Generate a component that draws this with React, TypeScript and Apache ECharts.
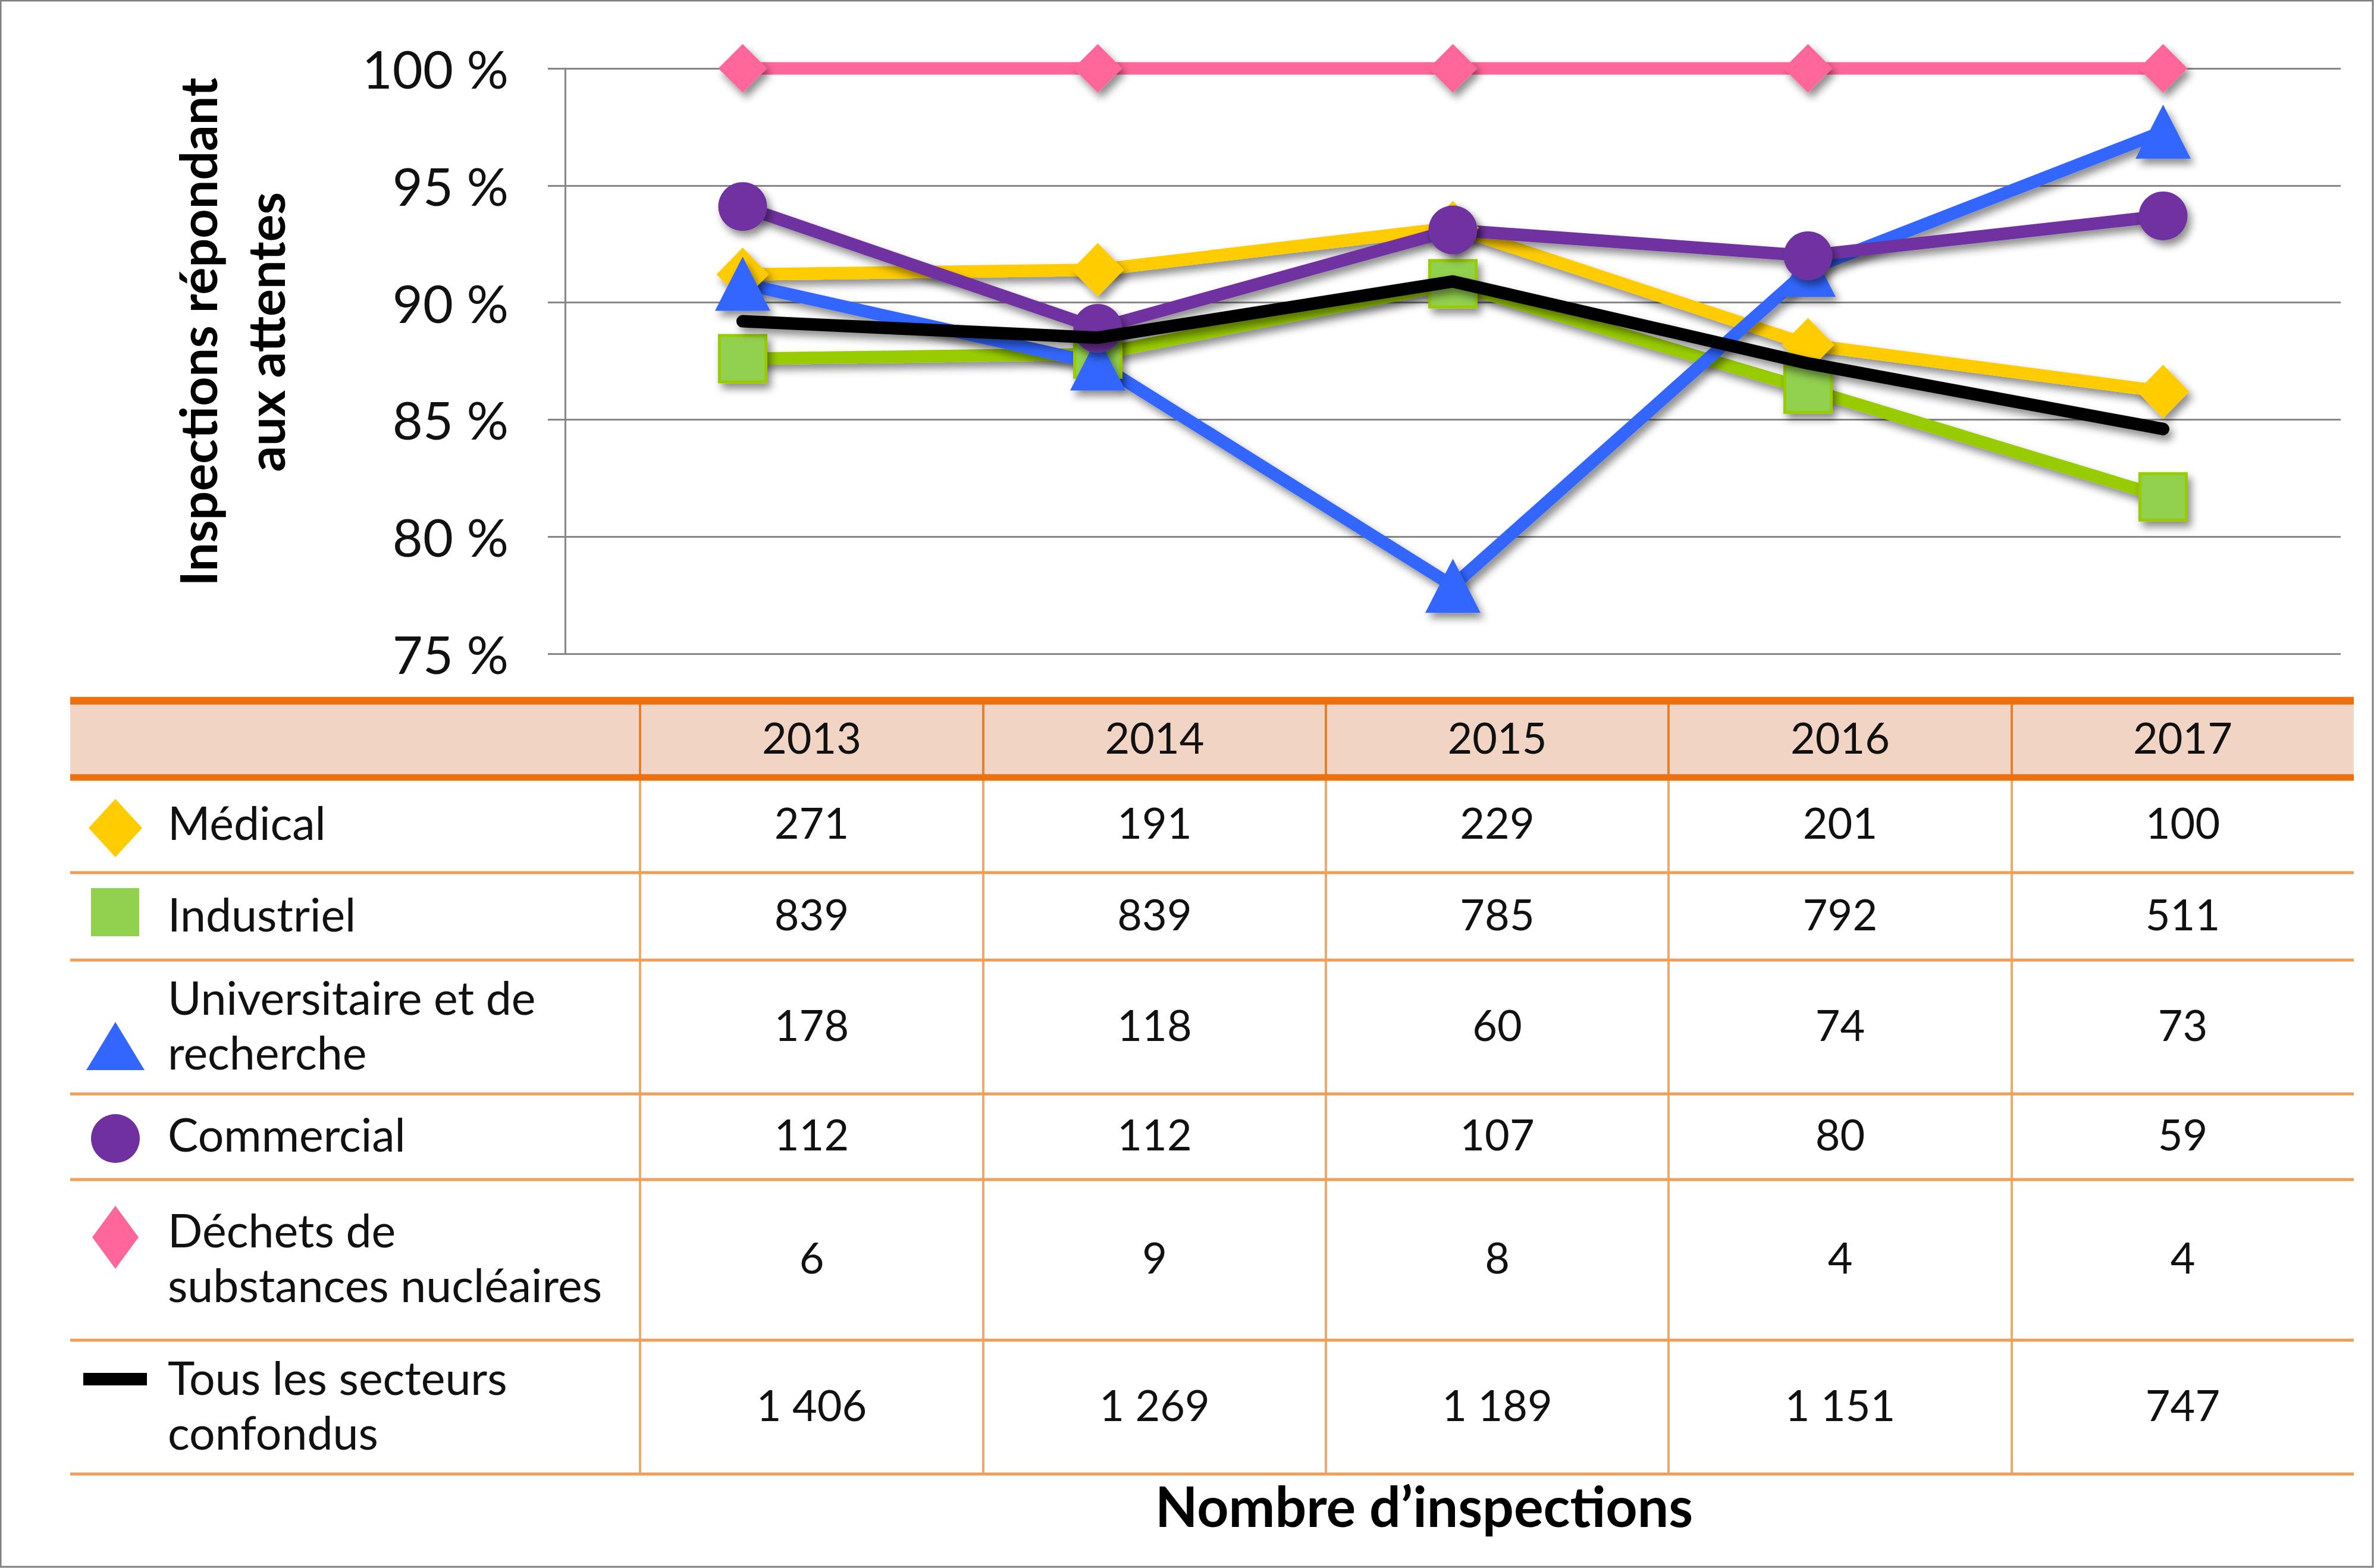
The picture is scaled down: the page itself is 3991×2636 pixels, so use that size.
import React, { useEffect, useRef } from "react";
import * as echarts from "echarts";

// ---------- data ----------
const years = ["2013", "2014", "2015", "2016", "2017"];
const yTicks = [75, 80, 85, 90, 95, 100];

const seriesNames = [
  "Déchets de substances nucléaires",
  "Médical",
  "Industriel",
  "Universitaire et de recherche",
  "Commercial",
  "Tous les secteurs confondus",
];
const dechetsPct = [100, 100, 100, 100, 100];
const medicalPct = [91.2, 91.4, 93.2, 88.2, 86.2];
const industrielPct = [87.6, 87.8, 90.8, 86.3, 81.7];
const universitairePct = [90.8, 87.4, 77.9, 91.4, 97.3];
const commercialPct = [94.1, 88.9, 93.1, 92.0, 93.7];
const tousPct = [89.2, 88.5, 90.9, 87.4, 84.6];

const rowLabels = [
  "Médical",
  "Industriel",
  "Universitaire et de\nrecherche",
  "Commercial",
  "Déchets de\nsubstances nucléaires",
  "Tous les secteurs\nconfondus",
];
const medicalCounts = [271, 191, 229, 201, 100];
const industrielCounts = [839, 839, 785, 792, 511];
const universitaireCounts = [178, 118, 60, 74, 73];
const commercialCounts = [112, 112, 107, 80, 59];
const dechetsCounts = [6, 9, 8, 4, 4];
const tousCounts = [1406, 1269, 1189, 1151, 747];

// ---------- styles ----------
const FONT = "Lato, 'Open Sans', sans-serif";
const C_PINK = "#FF6699";
const C_YELLOW = "#FFCC00";
const C_GREEN_LINE = "#99CC00";
const C_GREEN_FILL = "#92D050";
const C_BLUE = "#3366FF";
const C_PURPLE = "#7030A0";
const C_BLACK = "#000000";

const fmt = (n: number) =>
  n >= 1000 ? `${Math.floor(n / 1000)} ${String(n % 1000).padStart(3, "0")}` : String(n);

const shadow = {
  shadowBlur: 14,
  shadowColor: "rgba(0,0,0,0.45)",
  shadowOffsetX: 6,
  shadowOffsetY: 9,
};

function textEl(text: string, x: number, y: number, opts: any = {}) {
  const align = opts.align || "center";
  return {
    type: "text",
    x,
    y,
    rotation: opts.rotation || 0,
    silent: true,
    style: {
      text,
      fill: opts.fill || "#111111",
      fontSize: opts.fontSize || 72,
      fontFamily: FONT,
      fontWeight: opts.fontWeight || "normal",
      lineHeight: opts.lineHeight || 92,
      align,
      verticalAlign: "middle",
      textAlign: align,
      textVerticalAlign: "middle",
    },
  };
}

function buildTable() {
  const colB = [118, 1076, 1653, 2229, 2805, 3382, 3957];
  const rowB = [1178, 1307, 1467, 1614, 1839, 1983, 2253, 2478];
  const counts = [
    medicalCounts,
    industrielCounts,
    universitaireCounts,
    commercialCounts,
    dechetsCounts,
    tousCounts,
  ];
  const els: any[] = [];
  els.push({
    type: "rect",
    shape: { x: colB[0], y: rowB[0], width: colB[6] - colB[0], height: rowB[1] - rowB[0] },
    style: { fill: "#F1D4C4" },
    silent: true,
  });
  for (let i = 1; i < 6; i++) {
    els.push({
      type: "line",
      shape: { x1: colB[i], y1: rowB[0] - 6, x2: colB[i], y2: rowB[7] },
      style: { stroke: "#F2A86A", lineWidth: 4 },
      silent: true,
    });
    els.push({
      type: "line",
      shape: { x1: colB[i], y1: rowB[0] - 6, x2: colB[i], y2: rowB[1] },
      style: { stroke: "#E8802A", lineWidth: 4 },
      silent: true,
    });
  }
  for (let r = 2; r < rowB.length; r++) {
    els.push({
      type: "line",
      shape: { x1: colB[0], y1: rowB[r], x2: colB[6], y2: rowB[r] },
      style: { stroke: "#F09D58", lineWidth: 5 },
      silent: true,
    });
  }
  els.push({
    type: "line",
    shape: { x1: colB[0], y1: rowB[0], x2: colB[6], y2: rowB[0] },
    style: { stroke: "#EC700E", lineWidth: 13 },
    silent: true,
  });
  els.push({
    type: "line",
    shape: { x1: colB[0], y1: rowB[1], x2: colB[6], y2: rowB[1] },
    style: { stroke: "#EC700E", lineWidth: 11 },
    silent: true,
  });
  years.forEach((y, i) => {
    els.push(textEl(y, (colB[i + 1] + colB[i + 2]) / 2, (rowB[0] + rowB[1]) / 2 - 4));
  });
  rowLabels.forEach((lab, r) => {
    const cy = (rowB[r + 1] + rowB[r + 2]) / 2 - 5;
    els.push(textEl(lab, 282, cy, { align: "left", fontSize: 77 }));
    counts[r].forEach((v, i) => {
      els.push(textEl(fmt(v), (colB[i + 1] + colB[i + 2]) / 2, cy));
    });
  });
  const mx = 194;
  els.push({
    type: "polygon",
    shape: { points: [[mx, 1343], [mx + 45, 1392], [mx, 1441], [mx - 45, 1392]] },
    style: { fill: C_YELLOW },
    silent: true,
  });
  els.push({
    type: "rect",
    shape: { x: mx - 41, y: 1493, width: 81, height: 81 },
    style: { fill: C_GREEN_FILL },
    silent: true,
  });
  els.push({
    type: "polygon",
    shape: { points: [[mx, 1718], [mx + 49, 1799], [mx - 49, 1799]] },
    style: { fill: C_BLUE },
    silent: true,
  });
  els.push({
    type: "circle",
    shape: { cx: mx, cy: 1914, r: 41 },
    style: { fill: C_PURPLE },
    silent: true,
  });
  els.push({
    type: "polygon",
    shape: { points: [[mx, 2027], [mx + 39, 2080], [mx, 2133], [mx - 39, 2080]] },
    style: { fill: C_PINK },
    silent: true,
  });
  els.push({
    type: "rect",
    shape: { x: 140, y: 2308, width: 107, height: 21 },
    style: { fill: C_BLACK },
    silent: true,
  });
  return els;
}

function makeLine(
  name: string,
  data: number[],
  color: string,
  symbol: string,
  size: any,
  extra: any = {}
) {
  const lineShadow = extra.noLineShadow ? {} : shadow;
  return {
    type: "line",
    name,
    data,
    symbol,
    symbolSize: size,
    showSymbol: symbol !== "none",
    clip: false,
    lineStyle: { color, width: 21, cap: "round", join: "round", ...lineShadow },
    itemStyle: { color, ...shadow, ...(extra.itemStyle || {}) },
    emphasis: { disabled: true },
    z: extra.z || 2,
    silent: true,
  };
}

export default function App() {
  const ref = useRef<HTMLDivElement>(null);
  useEffect(() => {
    document.body.style.margin = "0";
    document.body.style.overflow = "hidden";
    const chart = echarts.init(ref.current as HTMLDivElement, null, {
      renderer: "svg",
      width: 3991,
      height: 2636,
    });
    const option: any = {
      animation: false,
      backgroundColor: "#ffffff",
      grid: { left: 950, top: 115, width: 2985, height: 984, containLabel: false },
      xAxis: {
        type: "category",
        data: years,
        boundaryGap: true,
        axisLine: { show: false },
        axisTick: { show: false },
        axisLabel: { show: false },
        splitLine: { show: false },
      },
      yAxis: {
        type: "value",
        min: yTicks[0],
        max: yTicks[yTicks.length - 1],
        interval: 5,
        axisLine: { show: true, lineStyle: { color: "#868686", width: 3 } },
        axisTick: {
          show: true,
          length: 29,
          inside: false,
          lineStyle: { color: "#868686", width: 3 },
        },
        axisLabel: {
          formatter: "{value} %",
          fontSize: 88,
          fontFamily: FONT,
          color: "#111111",
          margin: 95,
        },
        splitLine: { show: true, lineStyle: { color: "#878787", width: 3 } },
      },
      series: [
        makeLine(seriesNames[0], dechetsPct, C_PINK, "diamond", [82, 82], { noLineShadow: true }),
        makeLine(seriesNames[1], medicalPct, C_YELLOW, "diamond", [88, 90]),
        makeLine(seriesNames[2], industrielPct, C_GREEN_LINE, "rect", [78, 78], {
          itemStyle: { color: C_GREEN_FILL, borderColor: C_GREEN_LINE, borderWidth: 5 },
        }),
        makeLine(seriesNames[3], universitairePct, C_BLUE, "triangle", [93, 91]),
        makeLine(seriesNames[4], commercialPct, C_PURPLE, "circle", [82, 82]),
        makeLine(seriesNames[5], tousPct, C_BLACK, "none", 0, { z: 3 }),
      ],
      graphic: [
        {
          type: "rect",
          shape: { x: 1, y: 1, width: 3988, height: 2633 },
          style: { fill: "none", stroke: "#808080", lineWidth: 3 },
          silent: true,
        },
        textEl("Inspections répondant\naux attentes", 388, 558, {
          rotation: Math.PI / 2,
          fontSize: 86,
          fontWeight: "bold",
          lineHeight: 114,
          fill: "#000000",
        }),
        ...buildTable(),
        textEl("Nombre d’inspections", 2394, 2531, {
          fontSize: 93,
          fontWeight: "bold",
          fill: "#000000",
        }),
      ],
    };
    chart.setOption(option);
    return () => chart.dispose();
  }, []);
  return (
    <div
      ref={ref}
      style={{
        position: "absolute",
        left: 0,
        top: 0,
        width: 3991,
        height: 2636,
        background: "#fff",
      }}
    />
  );
}
